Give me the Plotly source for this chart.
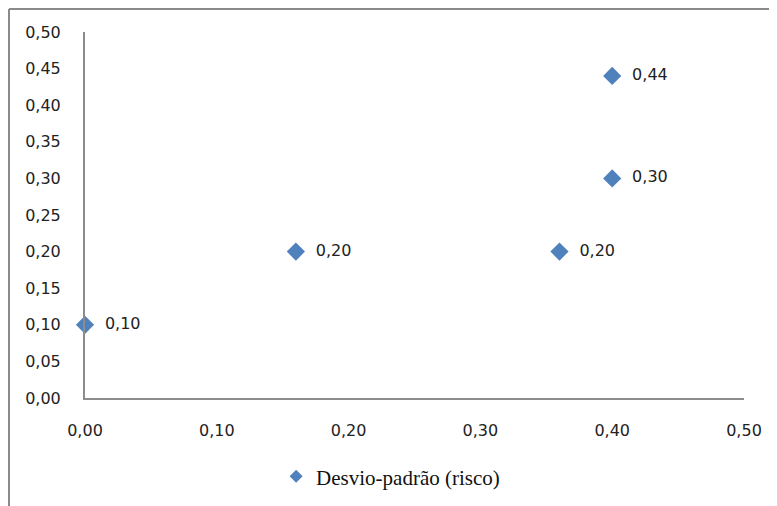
import plotly.graph_objects as go

x_vals = [0.00, 0.16, 0.36, 0.40, 0.40]
y_vals = [0.10, 0.20, 0.20, 0.30, 0.44]
series_name = "Desvio-padrão (risco)"
tick_vals = [0.0, 0.1, 0.2, 0.3, 0.4, 0.5]
y_tick_vals = [0.0, 0.05, 0.1, 0.15, 0.2, 0.25, 0.3, 0.35, 0.4, 0.45, 0.5]

L, R, T, B = 77, 41, 24, 116
PW = 777 - L - R
PH = 506 - T - B
BLUE = "#4F81BD"

fig = go.Figure()
fig.add_trace(go.Scatter(
    x=x_vals, y=y_vals, mode="markers+text", name=series_name,
    marker=dict(symbol="diamond", size=14, color=BLUE),
    texttemplate="  %{y:.2f}", textposition="middle right",
    textfont=dict(family="DejaVu Sans, sans-serif", size=16, color="#222"),
    cliponaxis=False, showlegend=False,
))
# legend entry (smaller symbol, as in the reference)
fig.add_trace(go.Scatter(
    x=[None], y=[None], mode="markers", name=series_name,
    marker=dict(symbol="diamond", size=10, color=BLUE), showlegend=True,
))

axis_font = dict(family="DejaVu Sans, sans-serif", size=16, color="#222")
fig.update_layout(
    width=777, height=506,
    margin=dict(l=L, r=R, t=T, b=B),
    paper_bgcolor="white", plot_bgcolor="white",
    separators=",.",
    xaxis=dict(range=[0, 0.5], tickvals=tick_vals, tickformat=".2f",
               showgrid=False, zeroline=False, showline=True, linecolor="#8c8c8c",
               linewidth=2, tickfont=axis_font, ticks="", ticklen=0, ticklabelstandoff=17),
    yaxis=dict(range=[0, 0.5], tickvals=y_tick_vals, tickformat=".2f",
               showgrid=False, zeroline=False, showline=True, linecolor="#8c8c8c",
               linewidth=2, tickfont=axis_font, ticks="", ticklen=0, ticklabelstandoff=19),
    legend=dict(orientation="h", x=0.29, xanchor="left", y=-0.215, yanchor="middle",
                font=dict(family="Liberation Serif, Times New Roman, serif", size=21, color="#111"),
                itemwidth=30, bgcolor="rgba(0,0,0,0)"),
    shapes=[
        dict(type="line", xref="paper", yref="paper", x0=(1 - L) / PW, x1=1.1,
             y0=(PH + T - 1) / PH, y1=(PH + T - 1) / PH,
             line=dict(color="#8a8a8a", width=2)),
        dict(type="line", xref="paper", yref="paper", x0=(1 - L) / PW, x1=(1 - L) / PW,
             y0=-0.4, y1=(PH + T - 1) / PH,
             line=dict(color="#8a8a8a", width=2)),
    ],
)
fig.write_html("out.html")
